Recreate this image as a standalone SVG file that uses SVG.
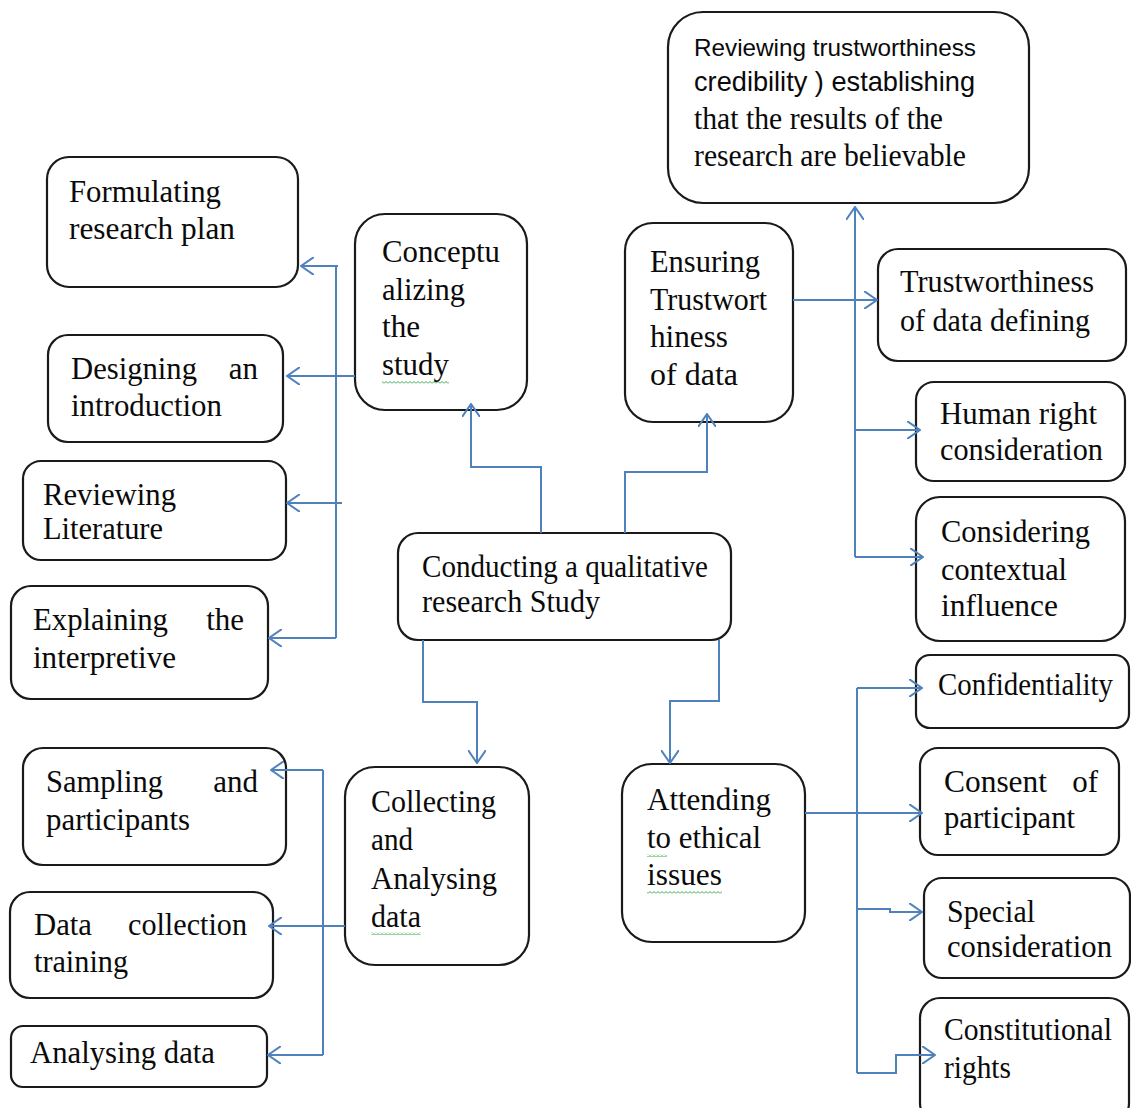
<svg xmlns="http://www.w3.org/2000/svg" width="1131" height="1108" viewBox="0 0 1131 1108">
<style>
.box{fill:#fff;stroke:#1a1a1a;stroke-width:2.2}
.t{font-family:"Liberation Serif","Times New Roman",serif;font-size:31px;fill:#0a0a0a}
.s{font-family:"Liberation Sans",Arial,sans-serif;fill:#0a0a0a}
.conn{fill:none;stroke:#4f81bd;stroke-width:2}
.arr{marker-end:url(#ah)}
</style>
<defs>
<marker id="ah" viewBox="0 0 14 18" refX="13" refY="9" markerWidth="14" markerHeight="18" markerUnits="userSpaceOnUse" orient="auto">
<path d="M0,0 L13,9 L0,18" fill="none" stroke="#4f81bd" stroke-width="2"/>
</marker>
<pattern id="sq" width="4" height="3" patternUnits="userSpaceOnUse">
<path d="M0,2.5 L2,0.5 L4,2.5" fill="none" stroke="#3aa845" stroke-width="1"/>
</pattern>
</defs>
<rect width="1131" height="1108" fill="#fff"/>

<g id="formulating">
<rect class="box" x="47" y="157" width="251" height="130" rx="22"/>
<text class="t" x="69" y="202" textLength="152" lengthAdjust="spacingAndGlyphs">Formulating</text>
<text class="t" x="69" y="239" textLength="166" lengthAdjust="spacingAndGlyphs">research plan</text>
</g>
<g id="conceptualizing">
<rect class="box" x="355" y="214" width="172" height="196" rx="30"/>
<text class="t" x="382" y="262" textLength="118" lengthAdjust="spacingAndGlyphs">Conceptu</text>
<text class="t" x="382" y="300" textLength="83" lengthAdjust="spacingAndGlyphs">alizing</text>
<text class="t" x="382" y="337" textLength="38" lengthAdjust="spacingAndGlyphs">the</text>
<text class="t" x="382" y="375" textLength="67" lengthAdjust="spacingAndGlyphs">study</text>
<rect x="382" y="381" width="67" height="3" fill="url(#sq)"/>
</g>
<g id="designing">
<rect class="box" x="48" y="335" width="235" height="107" rx="20"/>
<text class="t" x="71" y="379" textLength="126" lengthAdjust="spacingAndGlyphs">Designing</text>
<text class="t" x="258" y="379" text-anchor="end">an</text>
<text class="t" x="71" y="416" textLength="151" lengthAdjust="spacingAndGlyphs">introduction</text>
</g>
<g id="reviewing-literature">
<rect class="box" x="23" y="461" width="263" height="99" rx="18"/>
<text class="t" x="43" y="505" textLength="133" lengthAdjust="spacingAndGlyphs">Reviewing</text>
<text class="t" x="43" y="539" textLength="120" lengthAdjust="spacingAndGlyphs">Literature</text>
</g>
<g id="explaining">
<rect class="box" x="11" y="586" width="257" height="113" rx="20"/>
<text class="t" x="33" y="630" textLength="135" lengthAdjust="spacingAndGlyphs">Explaining</text>
<text class="t" x="244" y="630" text-anchor="end">the</text>
<text class="t" x="33" y="668" textLength="143" lengthAdjust="spacingAndGlyphs">interpretive</text>
</g>
<g id="conducting">
<rect class="box" x="398" y="533" width="333" height="107" rx="20"/>
<text class="t" x="422" y="577" textLength="286" lengthAdjust="spacingAndGlyphs">Conducting a qualitative</text>
<text class="t" x="422" y="612" textLength="178" lengthAdjust="spacingAndGlyphs">research Study</text>
</g>
<g id="ensuring">
<rect class="box" x="625" y="223" width="168" height="199" rx="28"/>
<text class="t" x="650" y="272" textLength="110" lengthAdjust="spacingAndGlyphs">Ensuring</text>
<text class="t" x="650" y="310" textLength="117" lengthAdjust="spacingAndGlyphs">Trustwort</text>
<text class="t" x="650" y="347" textLength="78" lengthAdjust="spacingAndGlyphs">hiness</text>
<text class="t" x="650" y="385" textLength="88" lengthAdjust="spacingAndGlyphs">of data</text>
</g>
<g id="reviewing-trustworthiness">
<rect class="box" x="668" y="12" width="361" height="191" rx="35"/>
<text class="s" x="694" y="56" font-size="24" textLength="282" lengthAdjust="spacingAndGlyphs">Reviewing trustworthiness</text>
<text class="s" x="694" y="91" font-size="28" textLength="281" lengthAdjust="spacingAndGlyphs">credibility ) establishing</text>
<text class="t" x="694" y="129" textLength="249" lengthAdjust="spacingAndGlyphs">that the results of the</text>
<text class="t" x="694" y="166" textLength="272" lengthAdjust="spacingAndGlyphs">research are believable</text>
</g>
<g id="trustworthiness-defining">
<rect class="box" x="878" y="249" width="248" height="112" rx="20"/>
<text class="t" x="900" y="292" textLength="194" lengthAdjust="spacingAndGlyphs">Trustworthiness</text>
<text class="t" x="900" y="331" textLength="190" lengthAdjust="spacingAndGlyphs">of data defining</text>
</g>
<g id="human-right">
<rect class="box" x="916" y="382" width="209" height="99" rx="18"/>
<text class="t" x="940" y="424" textLength="157" lengthAdjust="spacingAndGlyphs">Human right</text>
<text class="t" x="940" y="460" textLength="163" lengthAdjust="spacingAndGlyphs">consideration</text>
</g>
<g id="considering">
<rect class="box" x="916" y="497" width="209" height="144" rx="24"/>
<text class="t" x="941" y="542" textLength="149" lengthAdjust="spacingAndGlyphs">Considering</text>
<text class="t" x="941" y="580" textLength="126" lengthAdjust="spacingAndGlyphs">contextual</text>
<text class="t" x="941" y="616" textLength="117" lengthAdjust="spacingAndGlyphs">influence</text>
</g>
<g id="confidentiality">
<rect class="box" x="916" y="655" width="213" height="73" rx="14"/>
<text class="t" x="938" y="695" textLength="175" lengthAdjust="spacingAndGlyphs">Confidentiality</text>
</g>
<g id="consent">
<rect class="box" x="920" y="748" width="199" height="107" rx="18"/>
<text class="t" x="944" y="792" textLength="103" lengthAdjust="spacingAndGlyphs">Consent</text>
<text class="t" x="1098" y="792" text-anchor="end">of</text>
<text class="t" x="944" y="828" textLength="131" lengthAdjust="spacingAndGlyphs">participant</text>
</g>
<g id="special">
<rect class="box" x="924" y="878" width="206" height="100" rx="18"/>
<text class="t" x="947" y="922" textLength="88" lengthAdjust="spacingAndGlyphs">Special</text>
<text class="t" x="947" y="957" textLength="165" lengthAdjust="spacingAndGlyphs">consideration</text>
</g>
<g id="constitutional">
<rect class="box" x="920" y="998" width="209" height="125" rx="20"/>
<text class="t" x="944" y="1040" textLength="168" lengthAdjust="spacingAndGlyphs">Constitutional</text>
<text class="t" x="944" y="1078" textLength="67" lengthAdjust="spacingAndGlyphs">rights</text>
</g>
<g id="sampling">
<rect class="box" x="23" y="748" width="263" height="117" rx="20"/>
<text class="t" x="46" y="792" textLength="117" lengthAdjust="spacingAndGlyphs">Sampling</text>
<text class="t" x="258" y="792" text-anchor="end">and</text>
<text class="t" x="46" y="830" textLength="144" lengthAdjust="spacingAndGlyphs">participants</text>
</g>
<g id="data-collection">
<rect class="box" x="10" y="892" width="263" height="106" rx="20"/>
<text class="t" x="34" y="935" textLength="58" lengthAdjust="spacingAndGlyphs">Data</text>
<text class="t" x="247" y="935" text-anchor="end" textLength="119" lengthAdjust="spacingAndGlyphs">collection</text>
<text class="t" x="34" y="972" textLength="94" lengthAdjust="spacingAndGlyphs">training</text>
</g>
<g id="analysing-data">
<rect class="box" x="11" y="1026" width="256" height="61" rx="12"/>
<text class="t" x="30" y="1063" textLength="185" lengthAdjust="spacingAndGlyphs">Analysing data</text>
</g>
<g id="collecting">
<rect class="box" x="345" y="767" width="184" height="198" rx="30"/>
<text class="t" x="371" y="812" textLength="125" lengthAdjust="spacingAndGlyphs">Collecting</text>
<text class="t" x="371" y="850" textLength="42" lengthAdjust="spacingAndGlyphs">and</text>
<text class="t" x="371" y="889" textLength="126" lengthAdjust="spacingAndGlyphs">Analysing</text>
<text class="t" x="371" y="927" textLength="50" lengthAdjust="spacingAndGlyphs">data</text>
<rect x="371" y="932" width="50" height="3" fill="url(#sq)"/>
</g>
<g id="attending">
<rect class="box" x="622" y="764" width="183" height="178" rx="30"/>
<text class="t" x="647" y="810" textLength="124" lengthAdjust="spacingAndGlyphs">Attending</text>
<text class="t" x="647" y="848" textLength="114" lengthAdjust="spacingAndGlyphs">to ethical</text>
<text class="t" x="647" y="885" textLength="75" lengthAdjust="spacingAndGlyphs">issues</text>
<rect x="647" y="854" width="20" height="3" fill="url(#sq)"/>
<rect x="647" y="891" width="75" height="3" fill="url(#sq)"/>
</g>

<g id="connectors">
<path class="conn" d="M336,266 V638"/>
<path class="conn arr" d="M338,266 H301"/>
<path class="conn arr" d="M355,376 H287"/>
<path class="conn arr" d="M342,503 H287"/>
<path class="conn arr" d="M336,638 H269"/>
<path class="conn arr" d="M541,533 V467 H471 V404"/>
<path class="conn arr" d="M625,533 V472 H707 V414"/>
<path class="conn arr" d="M793,300 H877"/>
<path class="conn arr" d="M855,557 V207"/>
<path class="conn arr" d="M855,430 H920"/>
<path class="conn arr" d="M855,557 H923"/>
<path class="conn arr" d="M423,640 V702 H477 V763"/>
<path class="conn arr" d="M345,926 H269"/>
<path class="conn" d="M323,770 V1055"/>
<path class="conn arr" d="M323,770 H271"/>
<path class="conn arr" d="M323,1055 H268"/>
<path class="conn arr" d="M719,640 V701 H670 V763"/>
<path class="conn arr" d="M805,813 H922"/>
<path class="conn" d="M857,688 V1073"/>
<path class="conn arr" d="M857,688 H922"/>
<path class="conn arr" d="M857,909 H890 V912 H922"/>
<path class="conn arr" d="M857,1073 H896 V1055 H935"/>
</g>
</svg>
